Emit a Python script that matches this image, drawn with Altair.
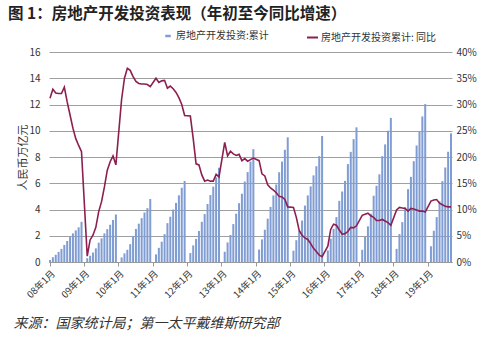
import altair as alt
import pandas as pd

years = ["08", "09", "10", "11", "12", "13", "14", "15", "16", "17", "18", "19"]

# Cumulative real-estate development investment (trillion RMB), Jan..Dec
inv_2008 = [0.15, 0.36, 0.55, 0.77, 1.00, 1.30, 1.60, 1.90, 2.18, 2.41, 2.64, 3.06]
inv_2009 = [None, 0.29, 0.48, 0.72, 1.04, 1.47, 1.80, 2.18, 2.50, 2.84, 3.20, 3.62]
inv_2010 = [None, 0.35, 0.66, 0.93, 1.36, 1.98, 2.52, 2.92, 3.34, 3.77, 4.10, 4.80]
inv_2011 = [None, 0.58, 1.08, 1.55, 2.12, 2.96, 3.45, 4.00, 4.50, 5.08, 5.66, 6.17]
inv_2012 = [None, 0.68, 1.27, 1.76, 2.36, 3.06, 3.65, 4.42, 5.10, 5.74, 6.45, 7.18]
inv_2013 = [None, 0.78, 1.49, 2.06, 2.89, 3.68, 4.48, 5.20, 6.13, 6.85, 7.65, 8.60]
inv_2014 = [None, 0.95, 1.72, 2.46, 3.30, 4.20, 5.07, 5.91, 6.84, 7.65, 8.55, 9.50]
inv_2015 = [None, 0.86, 1.66, 2.37, 3.16, 4.30, 5.07, 5.76, 6.60, 7.30, 8.07, 9.60]
inv_2016 = [None, 0.88, 1.78, 2.53, 3.42, 4.66, 5.37, 6.18, 7.46, 8.39, 9.36, 10.26]
inv_2017 = [None, 0.93, 1.93, 2.72, 3.68, 5.05, 5.81, 6.68, 8.06, 8.96, 10.00, 10.98]
inv_2018 = [None, 1.00, 2.13, 3.04, 4.18, 5.55, 6.49, 7.68, 8.88, 9.94, 11.09, 12.03]
inv_2019 = [None, 1.20, 2.38, 3.42, 4.62, 6.16, 7.20, 8.40, 9.80]

# Year-to-date YoY growth (%), Jan..Dec
yoy_2008 = [31.2, 32.9, 32.2, 32.1, 32.1, 33.3, 30.5, 28.0, 25.5, 23.5, 22.2, 21.0]
yoy_2009 = [None, 1.1, 4.2, 5.1, 6.6, 9.6, 11.5, 14.3, 17.5, 19.1, 20.2, 18.5]
yoy_2010 = [None, 31.0, 35.0, 36.9, 36.5, 35.3, 34.4, 34.0, 33.9, 33.9, 33.8, 33.4]
yoy_2011 = [None, 35.0, 34.2, 34.5, 34.6, 33.1, 33.5, 33.0, 32.3, 31.3, 30.0, 27.9]
yoy_2012 = [None, 27.8, 23.5, 18.7, 18.5, 16.6, 15.4, 15.6, 15.4, 15.4, 16.7, 16.2]
yoy_2013 = [None, 22.8, 20.2, 21.1, 20.6, 20.3, 20.5, 19.3, 19.7, 19.2, 19.5, 19.8]
yoy_2014 = [None, 19.3, 16.8, 16.4, 14.7, 14.1, 13.7, 13.2, 12.5, 12.4, 11.9, 10.5]
yoy_2015 = [None, 10.4, 8.5, 6.0, 5.1, 4.6, 4.3, 3.5, 2.6, 2.0, 1.3, 1.0]
yoy_2016 = [None, 3.0, 6.2, 7.2, 7.0, 6.1, 5.3, 5.4, 5.8, 6.6, 6.5, 6.9]
yoy_2017 = [None, 8.9, 9.1, 9.3, 8.8, 8.5, 7.9, 7.9, 8.1, 7.8, 7.5, 7.0]
yoy_2018 = [None, 9.9, 10.4, 10.3, 10.2, 9.7, 10.2, 10.1, 9.9, 9.7, 9.7, 9.5]
yoy_2019 = [None, 11.6, 11.8, 11.9, 11.2, 10.9, 10.6, 10.5, 10.5]

inv_all = [inv_2008, inv_2009, inv_2010, inv_2011, inv_2012, inv_2013,
           inv_2014, inv_2015, inv_2016, inv_2017, inv_2018, inv_2019]
yoy_all = [yoy_2008, yoy_2009, yoy_2010, yoy_2011, yoy_2012, yoy_2013,
           yoy_2014, yoy_2015, yoy_2016, yoy_2017, yoy_2018, yoy_2019]

BAR_NAME = "房地产开发投资:累计"
LINE_NAME = "房地产开发投资累计: 同比"
FONT = "Noto Sans CJK SC"

rows = []
for y, invs, yoys in zip(years, inv_all, yoy_all):
    for m, (a, b) in enumerate(zip(invs, yoys)):
        rows.append({"label": f"{y}年{m + 1}月", "inv": a, "yoy": b,
                     "s_bar": BAR_NAME, "s_line": LINE_NAME})
df = pd.DataFrame(rows)
labels = list(df["label"])
jan_labels = [f"{y}年1月" for y in years]

x_enc = alt.X(
    "label:N",
    sort=labels,
    scale=alt.Scale(paddingInner=0.3, paddingOuter=0),
    axis=alt.Axis(
        values=jan_labels, labelAngle=315, labelFontSize=9.5, labelColor="#333333",
        labelFont=FONT, domainColor="#999999", tickColor="#999999", tickSize=4,
        labelPadding=2,
        title="来源：国家统计局；第一太平戴维斯研究部", titleFont=FONT,
        titleFontStyle="italic", titleFontWeight="normal", titleFontSize=14,
        titleColor="#333333", titleAnchor="start", titleAlign="left",
        titleX=-36, titleY=61, titleBaseline="middle",
    ),
)

base = alt.Chart(df)

bars = base.mark_bar().encode(
    x=x_enc,
    y=alt.Y(
        "inv:Q",
        scale=alt.Scale(domain=[0, 16]),
        axis=alt.Axis(
            values=list(range(0, 17, 2)), title="人民币万亿元", titleFont=FONT,
            titleFontSize=11, titleFontWeight="normal", titleColor="#333333",
            titlePadding=0, labelFontSize=10, labelColor="#333333", labelPadding=9,
            domain=False, ticks=False, grid=True, gridColor="#a0a0a0", gridWidth=1,
        ),
    ),
    color=alt.Color(
        "s_bar:N",
        scale=alt.Scale(domain=[BAR_NAME], range=["#7f9cd3"]),
        legend=alt.Legend(
            title=None, orient="none", legendX=114, legendY=-21, padding=0,
            symbolType="M-1,-0.45L1,-0.45L1,0.45L-1,0.45Z", symbolSize=30,
            labelFontSize=10, labelColor="#333333", labelFont=FONT, labelOffset=3,
        ),
    ),
)

line = base.transform_filter("isValid(datum.yoy)").mark_line(strokeWidth=1.6).encode(
    x=x_enc,
    y=alt.Y(
        "yoy:Q",
        scale=alt.Scale(domain=[0, 40]),
        axis=alt.Axis(
            orient="right", values=list(range(0, 41, 5)), labelExpr="datum.value + '%'",
            labelFontSize=10, labelColor="#333333", labelPadding=4,
            domain=False, ticks=False, grid=False, title=None,
        ),
    ),
    stroke=alt.Stroke(
        "s_line:N",
        scale=alt.Scale(domain=[LINE_NAME], range=["#8c1f50"]),
        legend=alt.Legend(
            title=None, orient="none", legendX=257, legendY=-21, padding=0,
            symbolType="stroke", symbolSize=120, symbolStrokeWidth=2,
            labelFontSize=10, labelColor="#333333", labelFont=FONT, labelOffset=2,
        ),
    ),
)

chart = (
    alt.layer(bars, line)
    .resolve_scale(y="independent")
    .properties(
        width=403,
        height=210,
        padding={"left": 49, "top": 52, "right": 48, "bottom": 77},
        autosize=alt.AutoSizeParams(type="none"),
        background="white",
        title=alt.TitleParams(
            "图 1：房地产开发投资表现（年初至今同比增速）",
            anchor="start", frame="group", font=FONT, fontSize=15.5,
            fontWeight="bold", color="#222222", dx=-41, offset=9,
        ),
    )
    .configure_view(stroke=None)
    .configure_axis(labelFont=FONT)
)

chart.save("out.html", embed_options={"renderer": "svg", "actions": False})
